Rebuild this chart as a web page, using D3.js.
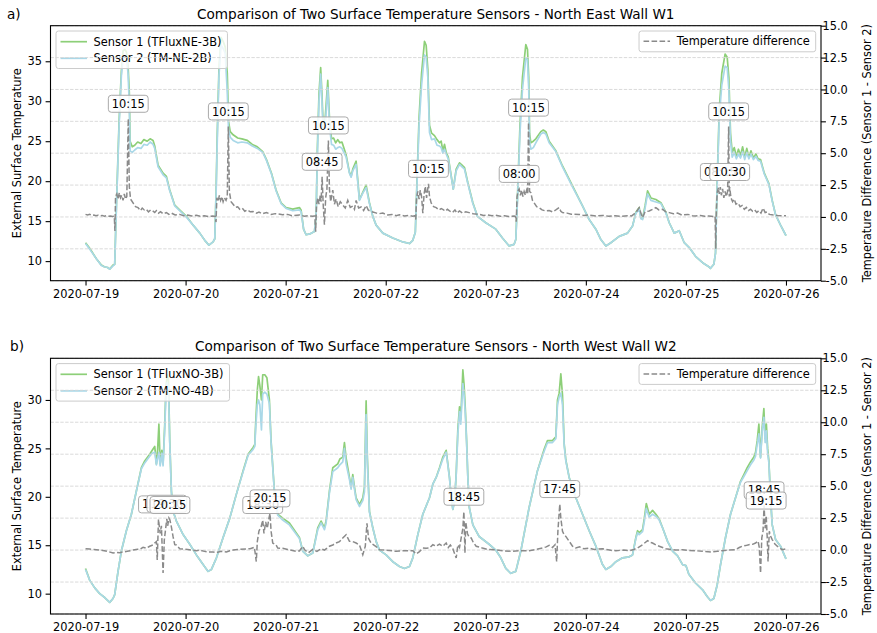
<!DOCTYPE html>
<html><head><meta charset="utf-8">
<script src="https://cdn.jsdelivr.net/npm/d3@7/dist/d3.min.js"></script>
<style>
body{margin:0;background:#fff}
svg text{font-family:"DejaVu Sans",sans-serif;fill:#000}
</style>
</head><body>
<svg id="chart" width="877" height="633"></svg>
<script>
// ---------------- DATA (hours since 2020-07-19 00:00) ----------------
const xTickLabels = ["2020-07-19","2020-07-20","2020-07-21","2020-07-22","2020-07-23","2020-07-24","2020-07-25","2020-07-26"];
const leftTicksA = [10,15,20,25,30,35];
const leftTicksB = [10,15,20,25,30];
const rightTicks = [-5,-2.5,0,2.5,5,7.5,10,12.5,15];

// Panel a) North East Wall W1
const hoursA = [0,1.0,2.6,3.8,4.5,5.3,5.8,6.6,7.0,7.4,
 8.05,8.6,9.0,9.4,9.8,10.2,10.5,10.7,11.2,11.8,
 12.5,13.3,14.0,14.8,15.5,16.2,16.6,17.4,18.6,19.4,
 20.2,21.4,23.0,24.2,25.8,27.4,28.6,29.6,30.6,31.0,
 31.3,31.6,32.0,32.5,33.0,33.5,34.0,34.3,34.7,35.4,
 36.5,37.5,38.8,40.0,41.2,42.5,43.4,44.6,45.7,46.9,
 48.1,49.7,51.3,51.7,52.3,52.9,53.8,54.9,55.3,55.6,
 56.0,56.4,56.7,57.0,57.5,58.1,58.5,59.0,59.5,60.0,
 60.5,61.0,61.5,62.5,63.3,63.7,64.1,64.9,65.7,66.5,
 67.3,68.1,68.9,69.7,71.3,73.7,76.1,77.7,78.5,79.1,
 79.5,80.0,80.6,81.3,81.7,82.1,82.5,83.0,83.7,84.3,
 84.9,85.3,85.7,86.1,86.5,87.0,87.7,88.2,88.9,89.7,
 90.3,90.9,91.7,92.9,94.0,96.0,98.4,100.0,101.6,102.8,
 103.2,103.6,104.2,104.8,105.6,106.0,106.3,106.5,106.8,107.4,
 108.0,109.2,109.8,110.4,111.2,112.8,114.4,116.8,119.2,120.8,
 122.4,123.6,124.8,126.0,128.0,130.0,131.2,132.0,132.8,133.2,
 133.6,134.2,134.8,135.6,136.8,138.0,139.2,140.0,141.2,142.4,
 143.6,144.8,146.3,148.0,149.5,149.9,150.7,151.1,151.5,152.0,
 152.6,153.4,153.9,154.3,154.7,155.1,155.6,156.1,156.6,157.1,
 157.6,158.1,158.6,159.1,159.6,160.2,160.8,161.3,161.9,162.8,
 163.9,164.7,165.5,166.7,167.9,168.0];
const sensor1A = [12.3,11.6,10.3,9.5,9.3,9.2,9.0,9.5,9.6,16.8,
 27.5,33.8,36.3,36.5,36.2,34.5,31.1,25.0,24.3,24.5,
 24.9,24.7,25.2,25.0,25.3,25.1,24.4,22.0,21.0,20.6,
 18.9,17.0,16.2,15.6,14.5,13.5,12.6,12.0,12.4,12.8,
 18.5,26.0,34.0,38.0,37.5,36.8,33.5,27.5,26.2,25.8,
 25.4,25.3,25.1,24.6,24.3,23.7,22.7,21.0,18.9,17.3,
 16.7,16.5,16.7,16.4,14.0,13.3,13.4,13.7,15.5,24.0,
 31.0,34.2,31.0,26.9,28.0,32.6,28.0,25.3,25.4,24.8,
 25.2,24.8,24.9,23.3,21.1,20.6,21.5,22.5,17.7,18.6,
 19.5,17.3,15.6,14.5,13.5,12.9,12.4,12.2,12.6,13.6,
 20.0,28.0,33.5,37.5,37.0,34.0,27.0,26.0,25.7,25.2,
 24.8,25.0,23.8,24.6,23.6,23.0,20.7,19.0,21.5,22.3,
 22.0,21.7,19.8,17.3,15.6,14.8,14.0,12.9,11.9,12.1,
 12.7,18.0,27.0,33.0,37.1,36.5,33.0,26.0,24.8,25.0,
 25.3,26.2,26.4,26.2,25.0,23.8,21.9,19.4,16.9,15.2,
 14.0,12.7,11.9,12.3,13.1,13.5,14.4,16.1,16.7,15.4,
 15.3,16.9,18.8,17.9,17.7,17.3,16.1,14.8,13.5,13.8,
 12.3,11.7,10.6,9.8,9.3,9.1,9.6,11.0,20.0,29.0,
 33.5,35.9,35.5,33.0,26.0,23.6,24.2,23.1,24.0,23.2,
 24.3,23.0,24.1,23.0,23.8,22.9,23.4,22.8,22.7,21.0,
 19.7,17.6,15.8,14.5,13.3,13.2];
const sensor2A = [12.2,11.5,10.3,9.45,9.3,9.2,9.0,9.4,9.6,16.5,
 26.9,33.2,35.3,35.6,35.5,33.5,29.5,23.8,23.6,23.9,
 24.2,24.1,24.6,24.5,24.9,24.6,24.1,21.8,20.8,20.4,
 18.8,16.9,16.1,15.5,14.5,13.5,12.6,12.0,12.4,12.8,
 18.0,25.0,33.2,37.0,36.6,36.0,31.1,26.5,25.5,25.1,
 24.8,24.9,24.8,24.4,24.1,23.6,22.6,20.9,18.8,17.2,
 16.6,16.3,16.4,16.2,14.0,13.3,13.4,13.7,15.5,23.0,
 30.0,33.4,30.0,26.5,27.0,31.7,27.0,24.6,24.5,24.0,
 24.2,24.3,24.1,23.0,21.0,20.5,21.3,22.1,17.6,18.5,
 19.2,17.2,15.6,14.5,13.5,12.9,12.4,12.2,12.6,13.6,
 19.5,27.0,32.0,35.8,35.5,33.0,26.1,25.2,25.3,24.5,
 24.4,24.2,23.5,24.0,23.4,22.8,20.6,19.0,21.3,22.1,
 21.8,21.5,19.7,17.2,15.6,14.8,14.0,12.9,11.9,12.1,
 12.7,17.5,26.0,31.5,35.4,35.2,31.5,25.0,24.0,24.2,
 24.8,25.9,26.1,25.9,24.8,23.7,21.8,19.3,16.9,15.2,
 14.0,12.7,11.9,12.3,13.1,13.5,14.4,16.0,16.5,15.3,
 15.2,16.6,18.4,17.6,17.4,17.2,16.0,14.8,13.5,13.8,
 12.3,11.7,10.6,9.8,9.3,9.1,9.6,11.0,19.5,28.0,
 32.0,34.4,34.2,31.5,25.0,23.0,23.6,22.8,23.4,22.9,
 23.7,22.7,23.6,22.8,23.4,22.7,23.1,22.6,22.5,20.9,
 19.6,17.5,15.8,14.5,13.3,13.2];
const diffHoursA = [0,0.5,1.0,1.5,2.0,2.5,3.0,3.5,4.0,4.5,
 5.0,5.5,6.0,6.5,6.9,7.05,7.2,7.5,7.8,8.1,
 8.4,8.7,9.0,9.3,9.6,9.9,10.25,10.5,10.8,11.4,
 12.0,12.6,13.2,13.6,14.1,14.6,15.1,15.6,16.2,16.6,
 17.0,17.5,18.0,18.6,19.4,20.0,20.6,21.5,22.6,23.5,
 24.5,25.5,26.6,27.5,28.5,29.5,30.5,31.1,31.3,31.5,
 31.8,32.1,32.4,32.7,33.0,33.3,33.7,34.0,34.25,34.5,
 34.9,35.4,36.0,36.5,37.0,37.6,38.2,38.8,39.5,40.2,
 41.0,41.6,42.3,43.4,44.5,45.5,47.3,48.5,49.5,51.3,
 52.5,53.5,54.5,55.0,55.2,55.4,55.7,56.0,56.3,56.5,
 56.75,57.0,57.3,57.6,57.9,58.25,58.5,58.8,59.3,59.7,
 60.1,60.6,61.1,61.7,62.3,62.9,63.5,64.1,64.5,64.9,
 65.5,66.1,66.7,67.3,67.8,68.3,68.9,69.8,70.5,71.3,
 72.5,73.5,74.5,75.3,76.5,77.5,78.5,79.0,79.2,79.4,
 79.7,80.0,80.3,80.6,80.9,81.2,81.5,81.8,82.0,82.25,
 82.5,82.9,83.5,84.1,84.8,85.3,85.7,86.3,86.8,87.3,
 88.0,88.6,89.1,89.7,90.4,91.2,92.0,93.0,94.4,95.5,
 96.5,97.5,98.4,99.5,100.5,101.5,102.8,103.1,103.3,103.5,
 103.8,104.0,104.3,104.6,104.9,105.2,105.5,105.8,106.05,106.25,
 106.5,106.8,107.2,107.6,108.2,108.8,109.5,110.4,111.2,112.0,
 112.8,113.6,114.0,114.4,115.5,116.5,118.4,119.5,120.5,122.4,
 124.0,125.5,127.0,128.5,130.0,131.0,132.0,132.8,133.2,133.6,
 134.2,135.2,136.0,136.8,137.5,138.4,139.2,140.0,141.0,142.0,
 143.0,144.5,145.5,146.3,147.5,148.5,149.5,150.7,151.0,151.15,
 151.3,151.5,151.8,152.0,152.25,152.5,152.8,153.1,153.4,153.7,
 154.0,154.25,154.4,154.5,154.8,155.2,155.6,156.0,156.5,157.0,
 157.5,158.0,158.5,159.0,159.5,160.0,160.5,161.0,161.5,162.0,
 162.5,163.0,163.5,164.0,165.0,166.0,167.0,168.0];
const diffA = [0.2,0.15,0.2,0.12,0.15,0.1,0.14,0.08,0.12,0.06,
 0.1,0.05,0.08,0.04,0.05,-1.1,1.6,1.8,1.4,1.9,
 1.5,1.7,1.3,1.8,1.4,1.6,7.7,2.4,1.4,1.1,
 0.8,0.73,0.5,0.7,0.55,0.6,0.4,0.55,0.45,0.35,
 0.5,0.3,0.42,0.25,0.34,0.2,0.3,0.15,0.2,0.1,
 0.15,0.08,0.13,0.05,0.1,0.03,0.08,0.05,-0.4,1.5,
 1.2,1.7,1.3,1.6,1.2,1.5,1.3,1.6,7.1,2.0,
 1.2,1.0,0.75,0.8,0.6,0.68,0.45,0.55,0.4,0.42,
 0.3,0.38,0.25,0.34,0.2,0.26,0.18,0.2,0.1,0.16,
 0.06,0.1,0.05,0.08,-1.15,0.9,1.5,1.0,1.7,1.2,
 3.15,1.0,-0.6,1.5,2.2,6.0,2.2,1.2,2.1,1.0,
 1.4,0.8,1.2,0.94,0.7,1.3,0.75,0.85,0.6,1.3,
 0.7,0.78,0.5,0.9,0.55,0.45,0.39,0.3,0.26,0.3,
 0.15,0.2,0.1,0.17,0.08,0.12,0.06,0.1,-0.2,1.5,
 2.0,1.4,2.1,1.6,0.3,1.8,2.4,1.5,2.0,2.6,
 1.6,1.1,0.8,0.73,0.55,0.65,0.6,0.45,0.6,0.47,
 0.35,0.55,0.3,0.47,0.3,0.4,0.34,0.25,0.2,0.12,
 0.16,0.1,0.13,0.05,0.1,0.04,0.08,0.05,-0.37,1.6,
 2.1,2.2,1.7,2.1,1.6,2.0,1.7,2.1,1.8,7.4,
 2.0,1.9,1.3,1.1,0.8,0.73,0.55,0.47,0.5,0.4,
 0.55,0.73,0.45,0.34,0.3,0.22,0.2,0.12,0.16,0.08,
 0.12,0.06,0.1,0.05,0.1,0.08,0.34,0.73,0.3,-0.05,
 0.4,0.47,0.6,0.73,0.55,0.6,0.4,0.34,0.25,0.3,
 0.15,0.2,0.1,0.08,0.12,0.05,0.08,0.03,0.05,-2.5,
 0.5,1.9,2.3,1.8,2.35,1.7,2.2,1.5,2.0,1.6,
 2.0,7.1,1.6,2.35,1.5,1.2,1.4,1.0,1.1,0.8,
 0.9,0.6,0.75,0.5,0.6,0.45,0.55,0.35,0.5,0.3,
 0.7,0.35,0.4,0.2,0.15,0.12,0.1,0.1];
const annHoursA  = [10.25,34.25,56.75,58.25,82.25,104.0,106.25,152.25,154.5,154.25];
const annValuesA = [7.7,7.1,3.15,6.0,2.6,2.2,7.4,2.35,2.35,7.1];
const annLabelsA = ["10:15","10:15","08:45","10:15","10:15","08:00","10:15","08:15","10:30","10:15"];

// Panel b) North West Wall W2
const hoursB = [0,1.0,2.2,3.4,4.6,5.8,6.6,7.0,7.8,8.6,
 9.8,11.0,12.2,13.4,14.2,15.4,16.0,16.6,17.0,17.3,
 17.6,17.9,18.3,18.6,19.0,19.3,19.6,19.9,20.2,20.6,
 21.0,21.8,23.4,25.0,26.6,28.2,29.4,30.2,31.4,33.0,
 34.6,36.2,37.8,39.0,40.2,40.6,40.8,41.2,41.5,41.8,
 42.2,42.5,43.0,43.5,44.1,44.5,45.3,46.1,47.3,48.9,
 51.3,52.1,53.3,54.5,55.7,56.5,57.3,57.7,58.5,59.3,
 60.5,61.0,61.7,62.1,62.5,62.9,63.3,63.7,64.1,64.5,
 64.9,65.7,66.5,66.9,67.3,67.6,68.1,68.9,69.7,70.5,
 72.1,73.7,75.3,76.5,77.7,78.5,79.7,80.9,82.5,83.3,
 84.1,84.9,85.7,86.5,86.9,87.3,87.7,88.1,88.5,88.9,
 89.3,89.7,90.0,90.5,90.8,91.1,91.4,91.7,92.05,92.9,
 94.4,96.8,98.4,99.6,100.8,102.0,103.2,104.4,106.4,108.4,
 110.0,110.8,112.0,112.8,113.2,113.6,114.0,114.4,114.8,115.2,
 116.0,117.6,119.2,120.8,122.4,124.0,124.8,126.0,127.2,128.8,
 130.4,131.2,132.0,132.4,132.8,133.6,134.0,134.5,135.2,136.0,
 136.8,137.6,138.4,139.6,140.8,142.0,143.2,144.0,144.7,146.3,
 148.0,149.1,149.9,150.7,151.5,152.3,153.5,154.7,155.9,157.1,
 157.9,158.7,159.5,160.3,160.7,161.1,161.5,161.9,162.3,162.7,
 163.0,163.3,163.6,163.9,164.3,164.7,165.5,166.7,167.9,168.0];
const sensor1B = [12.6,11.4,10.6,10.0,9.6,9.1,9.5,9.9,12.3,14.4,
 16.5,18.2,20.6,23.0,23.7,24.4,24.8,25.2,23.4,24.9,
 27.5,23.4,24.8,23.4,27.5,31.4,32.6,32.0,25.8,20.6,
 18.5,17.5,16.1,15.1,14.0,13.0,12.3,12.5,13.7,15.8,
 17.8,20.3,22.7,24.4,25.1,25.4,27.5,31.0,32.4,31.5,
 30.0,32.6,32.6,32.3,30.0,25.8,20.6,18.2,17.8,17.3,
 15.8,14.4,13.9,14.2,16.8,17.5,16.8,17.5,20.6,23.0,
 23.4,23.9,24.1,25.6,24.0,23.0,22.0,21.0,22.3,21.0,
 19.9,19.2,19.9,21.0,29.9,24.0,18.5,16.8,15.4,14.5,
 14.0,13.3,12.8,12.6,12.8,13.7,16.1,18.2,19.9,21.3,
 22.0,23.0,24.1,24.8,23.4,22.0,20.0,18.7,19.5,22.3,
 27.0,29.3,28.0,33.1,31.5,29.0,25.8,22.0,18.9,17.1,
 15.9,15.1,14.5,13.7,12.6,12.1,12.3,14.4,18.9,22.7,
 24.9,25.8,25.8,26.2,30.0,30.7,32.7,30.5,25.5,23.8,
 22.0,19.9,18.2,16.5,14.9,13.0,12.5,12.8,13.3,13.7,
 13.8,14.0,15.8,16.5,16.3,16.6,17.7,19.3,18.2,18.6,
 18.2,17.7,16.8,15.4,14.4,13.9,13.0,12.9,12.0,11.1,
 10.4,9.7,9.3,9.5,10.9,13.0,15.8,18.2,19.9,21.6,
 22.3,23.0,23.6,24.1,24.6,25.8,27.5,24.1,27.2,29.1,
 26.0,27.5,25.0,23.7,19.9,17.1,15.6,14.9,13.7,13.6];
const sensor2B = [12.5,11.4,10.6,10.0,9.6,9.1,9.5,9.9,12.3,14.4,
 16.5,18.2,20.6,22.9,23.5,24.2,24.5,24.6,23.3,24.0,
 24.6,23.2,24.5,23.2,27.0,30.8,31.8,31.2,25.6,20.5,
 18.5,17.5,16.1,15.1,14.0,13.0,12.3,12.5,13.7,15.8,
 17.8,20.3,22.6,24.3,24.9,25.2,27.0,29.5,30.0,29.5,
 26.9,30.6,30.8,30.6,29.6,25.6,20.5,18.1,17.6,17.1,
 15.7,14.4,13.9,14.2,16.6,17.3,16.6,17.3,20.4,22.6,
 23.0,23.3,23.6,25.0,23.4,22.6,21.8,20.8,22.0,20.8,
 19.7,19.0,19.6,20.5,28.5,23.5,18.4,16.8,15.4,14.5,
 14.0,13.3,12.8,12.6,12.8,13.7,16.1,18.2,19.9,21.3,
 22.0,22.9,23.9,24.6,23.3,21.9,20.0,18.7,19.5,22.2,
 26.5,28.8,27.5,31.7,30.5,28.5,25.6,22.0,18.9,17.1,
 15.9,15.1,14.5,13.7,12.6,12.1,12.3,14.4,18.9,22.7,
 24.7,25.6,25.6,26.0,29.5,30.3,30.7,29.5,25.3,23.7,
 22.0,19.9,18.2,16.5,14.9,13.0,12.5,12.8,13.3,13.7,
 13.8,14.0,15.7,16.3,16.1,16.4,17.4,18.8,17.9,18.2,
 18.0,17.6,16.8,15.4,14.4,13.9,13.0,12.9,12.0,11.1,
 10.4,9.7,9.3,9.5,10.9,13.0,15.8,18.2,19.9,21.5,
 22.1,22.7,23.3,23.8,24.2,25.4,26.5,24.0,26.8,28.2,
 25.6,26.8,24.5,23.5,19.9,17.1,15.6,14.9,13.7,13.6];
const diffHoursB = [0,1.0,2.0,2.6,3.5,4.5,5.5,6.6,7.5,8.2,
 9.0,10.0,11.4,12.5,13.0,13.8,14.6,15.4,16.2,16.6,
 17.0,17.2,17.5,17.9,18.2,18.6,18.9,19.5,19.7,20.0,
 20.25,20.6,21.0,21.4,21.8,22.6,23.4,24.5,26.6,27.4,
 28.5,29.5,30.6,31.4,32.5,33.8,34.6,35.4,36.5,38.6,
 39.5,40.5,40.96,41.2,41.6,42.1,42.5,42.8,43.2,43.6,
 44.0,44.25,44.5,44.9,45.7,46.1,47.3,48.5,50.5,51.3,
 52.1,52.6,53.5,54.5,55.5,56.5,57.3,58.5,59.3,60.1,
 60.9,61.7,62.5,63.3,64.1,64.9,65.7,66.5,67.1,67.5,
 67.9,68.5,69.7,70.5,72.1,74.5,75.3,77.0,78.5,79.3,
 80.1,80.9,81.7,82.5,83.3,84.1,84.9,85.7,86.5,87.0,
 87.5,88.1,88.9,89.3,89.7,90.1,90.5,90.75,91.0,91.2,
 91.6,92.0,92.5,93.0,93.7,95.2,96.5,98.4,100.0,102.4,
 104.0,106.4,108.0,109.6,110.5,111.2,112.0,112.6,113.0,113.3,
 113.75,114.0,114.4,114.8,115.2,116.0,116.8,117.6,118.5,119.5,
 120.8,122.0,124.0,126.0,127.2,129.0,130.4,131.5,132.4,133.6,
 134.8,135.4,136.0,136.8,137.6,138.4,139.2,140.5,141.5,143.2,
 144.5,146.3,148.0,150.3,151.5,152.7,154.0,155.9,156.8,157.5,
 158.3,159.1,160.0,160.7,161.3,161.6,161.9,162.2,162.5,162.75,
 163.0,163.25,163.5,163.7,164.0,164.3,164.7,165.3,165.9,167.1,
 168.0];
const diffB = [0.11,0.08,0.05,0.03,0.0,-0.05,-0.12,-0.23,-0.18,-0.2,
 -0.15,-0.1,0.0,0.06,0.06,0.22,0.14,0.3,0.4,0.55,
 0.66,-0.78,2.4,1.3,1.9,-1.8,0.8,2.45,1.9,2.5,
 2.35,1.8,1.05,0.42,0.4,0.11,0.09,0.05,-0.05,0.0,
 -0.1,-0.15,-0.15,-0.2,-0.1,-0.15,-0.05,0.0,0.05,0.09,
 0.1,0.22,-0.9,0.66,1.5,1.8,2.35,1.3,2.2,1.7,
 2.5,2.87,1.5,0.55,0.4,0.16,0.14,0.05,-0.1,-0.07,
 0.3,0.0,-0.2,0.05,-0.1,0.1,0.0,0.3,0.4,0.55,
 0.66,0.95,1.2,0.69,0.66,0.55,0.4,-0.36,0.3,2.1,
 0.9,0.53,0.27,0.03,0.0,-0.1,-0.07,-0.05,-0.05,-0.3,
 -0.12,0.16,0.14,0.16,0.42,0.3,0.47,0.3,0.55,0.2,
 0.4,0.1,-0.62,0.4,0.2,0.95,1.7,3.0,-0.23,2.2,
 1.3,1.0,0.95,0.6,0.3,0.16,0.05,0.03,-0.05,-0.1,
 -0.05,-0.05,0.05,0.16,0.25,0.37,0.2,0.42,-0.9,1.5,
 3.6,2.5,1.47,1.2,1.07,0.69,0.3,0.16,0.25,0.1,
 0.16,0.05,0.1,-0.02,-0.05,0.0,-0.05,0.05,0.16,0.42,
 0.74,0.6,0.55,0.4,0.3,0.2,0.1,0.05,0.0,0.03,
 -0.02,-0.05,-0.1,-0.15,-0.1,-0.05,0.0,0.03,0.2,0.3,
 0.35,0.42,0.45,0.55,0.7,0.2,-1.8,0.95,1.5,3.5,
 1.7,2.7,1.0,-0.9,1.47,1.1,0.82,0.5,0.3,0.03,
 0.1];
const annHoursB  = [17.5,19.5,20.25,42.5,44.25,90.75,113.75,162.75,163.25];
const annValuesB = [2.4,2.45,2.35,2.35,2.87,3.0,3.6,3.5,2.7];
const annLabelsB = ["17:30","19:30","20:15","18:30","20:15","18:45","17:45","18:45","19:15"];

// ---------------- DRAWING ----------------
const C1 = "#8dcf78", C2 = "#a9d8e8", CD = "#8a8a8a";
const FS = 11.4;
const svg = d3.select("#chart");
const t0 = Date.UTC(2020,6,19);
const toDate = h => new Date(t0 + h*3600000);
const parseDay = d3.utcParse("%Y-%m-%d");
const fmtDay = d3.utcFormat("%Y-%m-%d");
const fmtRight = d => d3.format(".1f")(d).replace("\u2212","-");

function drawPanel(o){
  const L = 50.5, R = 821, T = o.top, B = o.bottom;
  const x = d3.scaleUtc().domain([toDate(-8.4), toDate(176.4)]).range([L, R]);
  const lo = Math.min(d3.min(o.s1), d3.min(o.s2)), hi = Math.max(d3.max(o.s1), d3.max(o.s2));
  const pad = (hi - lo) * 0.05;
  const yL = d3.scaleLinear().domain([lo - pad, hi + pad]).range([B, T]);
  const yR = d3.scaleLinear().domain([-5, 15]).range([B, T]);
  const g = svg.append("g");
  const cid = "clip" + o.id;
  g.append("clipPath").attr("id", cid).append("rect")
    .attr("x", L).attr("y", T).attr("width", R - L).attr("height", B - T);

  const lineFor = (hrs, sc) => d3.line().x((d, i) => x(toDate(hrs[i]))).y(d => sc(d));
  const plot = g.append("g").attr("clip-path", `url(#${cid})`);
  plot.append("path").attr("d", lineFor(o.hours, yL)(o.s1))
    .attr("fill", "none").attr("stroke", C1).attr("stroke-width", 1.7).attr("stroke-linejoin", "round");
  plot.append("path").attr("d", lineFor(o.hours, yL)(o.s2))
    .attr("fill", "none").attr("stroke", C2).attr("stroke-width", 1.7).attr("stroke-linejoin", "round");

  // left legend (sensors)
  const lg = g.append("g");
  const lx = L + 5.5, ly = T + 5.3;
  const lbox = lg.append("rect").attr("x", lx).attr("y", ly).attr("height", 37.5).attr("rx", 2.5)
    .attr("fill", "#fff").attr("fill-opacity", 0.8).attr("stroke", "#cccccc").attr("stroke-width", 1);
  let maxW = 0;
  [[o.label1, C1], [o.label2, C2]].forEach(([t, c], i) => {
    const cy = ly + 10.7 + i * 16.6;
    lg.append("line").attr("x1", lx + 4.5).attr("x2", lx + 31).attr("y1", cy).attr("y2", cy)
      .attr("stroke", c).attr("stroke-width", 1.7);
    const tx = lg.append("text").attr("x", lx + 37.5).attr("y", cy).attr("dy", "0.36em")
      .attr("font-size", FS).text(t);
    maxW = Math.max(maxW, tx.node().getComputedTextLength());
  });
  lbox.attr("width", 37.5 + maxW + 6);

  // grid from right axis
  g.append("g").selectAll("line").data(rightTicks).join("line")
    .attr("x1", L).attr("x2", R).attr("y1", d => yR(d)).attr("y2", d => yR(d))
    .attr("stroke", "#d6d6d6").attr("stroke-width", 0.9).attr("stroke-dasharray", "3.4,1.5");

  // difference line
  const plot2 = g.append("g").attr("clip-path", `url(#${cid})`);
  plot2.append("path").attr("d", lineFor(o.dHours, yR)(o.diff))
    .attr("fill", "none").attr("stroke", CD).attr("stroke-width", 1.5).attr("stroke-dasharray", "5.6,2.4");

  // annotations
  o.annH.forEach((h, i) => {
    const ax = x(toDate(h)), ay = yR(o.annV[i]) - 15;
    const ag = g.append("g");
    const r = ag.append("rect");
    const tx = ag.append("text").attr("x", ax).attr("y", ay).attr("dy", "0.36em")
      .attr("text-anchor", "middle").attr("font-size", FS).text(o.annL[i]);
    const w = tx.node().getComputedTextLength() + 7;
    r.attr("x", ax - w / 2).attr("y", ay - 8.5).attr("width", w).attr("height", 17).attr("rx", 3)
      .attr("fill", "#fff").attr("fill-opacity", 0.85).attr("stroke", "#aaaaaa").attr("stroke-width", 1);
  });

  // right legend (difference)
  const rg = g.append("g");
  const rt = rg.append("text").attr("y", T + 15.6).attr("dy", "0.36em").attr("font-size", FS).text("Temperature difference");
  const rw = rt.node().getComputedTextLength();
  const rbw = 37.7 + rw + 6, rx0 = R - 5.3 - rbw;
  rg.insert("rect", "text").attr("x", rx0).attr("y", T + 5.3).attr("width", rbw).attr("height", 20.8).attr("rx", 2.5)
    .attr("fill", "#fff").attr("fill-opacity", 0.8).attr("stroke", "#cccccc").attr("stroke-width", 1);
  rt.attr("x", rx0 + 37.7);
  rg.append("line").attr("x1", rx0 + 4.5).attr("x2", rx0 + 31).attr("y1", T + 15.6).attr("y2", T + 15.6)
    .attr("stroke", CD).attr("stroke-width", 1.5).attr("stroke-dasharray", "5.6,2.4");

  // axes
  const xa = g.append("g").attr("transform", `translate(0,${B})`)
    .call(d3.axisBottom(x).tickValues(xTickLabels.map(parseDay)).tickFormat(fmtDay).tickSize(4.9).tickPadding(4.2));
  const ya = g.append("g").attr("transform", `translate(${L},0)`)
    .call(d3.axisLeft(yL).tickValues(o.leftTicks).tickFormat(d3.format("d")).tickSize(4.9).tickPadding(3.6));
  const yb = g.append("g").attr("transform", `translate(${R},0)`)
    .call(d3.axisRight(yR).tickValues(rightTicks).tickFormat(fmtRight).tickSize(4.9).tickPadding(3.6));
  yb.selectAll("text").attr("text-anchor", "end").attr("x", 26.8);
  [xa, ya, yb].forEach(a => {
    a.select(".domain").remove();
    a.selectAll("line").attr("stroke", "#000").attr("stroke-width", 1.1);
    a.selectAll("text").attr("font-size", FS).attr("font-family", '"DejaVu Sans", sans-serif').attr("fill", "#000");
  });
  g.append("rect").attr("x", L).attr("y", T).attr("width", R - L).attr("height", B - T)
    .attr("fill", "none").attr("stroke", "#000").attr("stroke-width", 1.1);

  // labels
  g.append("text").attr("x", (L + R) / 2).attr("y", T - 7).attr("text-anchor", "middle")
    .attr("font-size", 13.6).text(o.title);
  g.append("text").attr("x", o.tagX).attr("y", T - 7).attr("font-size", 13.6).text(o.tag);
  g.append("text").attr("transform", `translate(17.2,${(T + B) / 2}) rotate(-90)`).attr("dy", "0.36em")
    .attr("text-anchor", "middle").attr("font-size", FS).text("External Surface Temperature");
  g.append("text").attr("transform", `translate(866.5,${(T + B) / 2}) rotate(-90)`).attr("dy", "0.36em")
    .attr("text-anchor", "middle").attr("font-size", FS).text("Temperature Difference (Sensor 1 - Sensor 2)");
}

drawPanel({id: "a", top: 25.7, bottom: 280.7, tag: "a)", tagX: 7,
  title: "Comparison of Two Surface Temperature Sensors - North East Wall W1",
  hours: hoursA, s1: sensor1A, s2: sensor2A, dHours: diffHoursA, diff: diffA,
  annH: annHoursA, annV: annValuesA, annL: annLabelsA, leftTicks: leftTicksA,
  label1: "Sensor 1 (TFluxNE-3B)", label2: "Sensor 2 (TM-NE-2B)"});
drawPanel({id: "b", top: 358.3, bottom: 614, tag: "b)", tagX: 10,
  title: "Comparison of Two Surface Temperature Sensors - North West Wall W2",
  hours: hoursB, s1: sensor1B, s2: sensor2B, dHours: diffHoursB, diff: diffB,
  annH: annHoursB, annV: annValuesB, annL: annLabelsB, leftTicks: leftTicksB,
  label1: "Sensor 1 (TFluxNO-3B)", label2: "Sensor 2 (TM-NO-4B)"});
</script>
</body></html>
